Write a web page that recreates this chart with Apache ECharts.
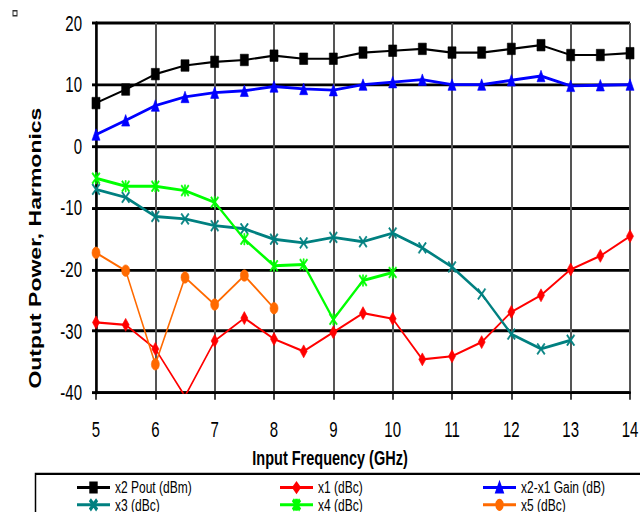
<!DOCTYPE html>
<html>
<head>
<meta charset="utf-8">
<script src="https://cdn.jsdelivr.net/npm/echarts@6/dist/echarts.min.js"></script>
<style>
  html { margin: 0; padding: 0; overflow: hidden; }
  body { margin: 0; padding: 0; background: #fff; width: 640px; height: 512px; }
  /* the reference is a chart stretched vertically, so draw it flat and stretch it */
  #main { width: 640px; height: 356px; transform: scaleY(1.4382); transform-origin: 0 0; }
</style>
</head>
<body>
<div id="main"></div>
<script>
const freq = [5, 5.5, 6, 6.5, 7, 7.5, 8, 8.5, 9, 9.5, 10, 10.5, 11, 11.5, 12, 12.5, 13, 13.5, 14];

const pout = [7.0, 9.2, 11.7, 13.1, 13.7, 14.0, 14.7, 14.2, 14.2, 15.2, 15.5, 15.8, 15.2, 15.2, 15.8, 16.4, 14.8, 14.8, 15.1];
const gain = [1.9, 4.2, 6.6, 8.0, 8.7, 9.0, 9.7, 9.3, 9.1, 10.0, 10.4, 10.8, 10.0, 10.0, 10.7, 11.4, 9.8, 9.9, 10.0];
const x1 = [-28.6, -29.0, -32.9, -40.6, -31.6, -27.9, -31.3, -33.3, -30.2, -27.1, -28.0, -34.6, -34.1, -31.8, -26.9, -24.2, -20.0, -17.8, -14.6];
const x3 = [-7.0, -8.3, -11.4, -11.8, -12.9, -13.4, -15.1, -15.7, -14.8, -15.5, -14.1, -16.5, -19.6, -24.0, -30.5, -32.9, -31.5];
const x4 = [-5.2, -6.5, -6.5, -7.2, -9.1, -15.1, -19.4, -19.2, -28.1, -21.8, -20.5];
const x5 = [-17.3, -20.2, -35.4, -21.3, -25.7, -21.0, -26.3];

const FONT = "'Liberation Sans', Arial, sans-serif";

const X_MARK = 'path://M0,1L1,0L5,4L9,0L10,1L6,5L10,9L9,10L5,6L1,10L0,9L4,5Z';
const STAR_MARK = 'path://M0,1L1,0L5,4L9,0L10,1L6,5L10,9L9,10L5,6L1,10L0,9L4,5Z' +
    'M4.4,0L5.6,0L5.6,10L4.4,10Z';

function pairs(vals) {
    return vals.map(function (v, i) { return [freq[i], v]; });
}

function lineSeries(name, vals, color, symbol, size, width) {
    return {
        name: name,
        type: 'line',
        data: pairs(vals),
        symbol: symbol,
        symbolSize: size,
        showAllSymbol: true,
        clip: true,
        color: color,
        lineStyle: { color: color, width: width },
        itemStyle: { color: color, borderColor: color, borderWidth: 0.5 }
    };
}

const legendBase = {
    orient: 'vertical',
    top: 333,
    height: 40,
    padding: 0,
    itemWidth: 33,
    itemHeight: 8,
    itemGap: 0,
    textStyle: { fontFamily: FONT, fontSize: 12, color: '#000' },
    selectedMode: false
};

const chart = echarts.init(document.getElementById('main'), null, { renderer: 'svg' });

const option = {
    animation: false,
    backgroundColor: '#fff',
    textStyle: { fontFamily: FONT },
    grid: { left: 96, right: 10, top: 16, bottom: 83, containLabel: false, outerBoundsMode: 'none' },
    legend: [
        Object.assign({ left: 76, data: ['x2 Pout (dBm)', 'x3 (dBc)'] }, legendBase),
        Object.assign({ left: 279, data: ['x1 (dBc)', 'x4 (dBc)'] }, legendBase),
        Object.assign({ left: 482, data: ['x2-x1 Gain (dB)', 'x5 (dBc)'] }, legendBase)
    ],
    xAxis: {
        type: 'value',
        min: 5,
        max: 14,
        interval: 1,
        name: 'Input Frequency (GHz)',
        nameLocation: 'middle',
        nameGap: 35,
        nameTextStyle: { fontFamily: FONT, fontSize: 14.5, fontWeight: 'bold', color: '#000', padding: [0, 66, 0, 0] },
        axisLine: { onZero: false, lineStyle: { color: '#000', width: 2 } },
        axisTick: { length: 5, lineStyle: { color: '#000', width: 1.5 } },
        axisLabel: { margin: 18, fontSize: 15, color: '#000', fontFamily: FONT },
        splitLine: { show: true, lineStyle: { color: '#555', width: 2 } }
    },
    yAxis: {
        type: 'value',
        min: -40,
        max: 20,
        interval: 10,
        axisLine: { show: true, lineStyle: { color: '#000', width: 2.5 } },
        axisTick: { show: true, length: 4, lineStyle: { color: '#000', width: 2 } },
        axisLabel: { margin: 14, fontSize: 15, color: '#000', fontFamily: FONT },
        splitLine: { show: true, lineStyle: { color: '#000', width: 2 } }
    },
    graphic: [
        {
            type: 'text',
            x: 35,
            y: 172.5,
            rotation: Math.PI / 2,
            style: {
                text: 'Output Power, Harmonics',
                font: 'bold 16px ' + FONT,
                fill: '#000',
                textAlign: 'center',
                textVerticalAlign: 'middle'
            }
        },
        {
            type: 'rect',
            shape: { x: 13, y: 7.5, width: 4, height: 3.5 },
            style: { fill: '#fff', stroke: '#333', lineWidth: 1 }
        },
        {
            type: 'rect',
            shape: { x: 35.5, y: 329.5, width: 610, height: 40 },
            style: { fill: 'none', stroke: '#000', lineWidth: 1.5 },
            z: -1
        }
    ],
    series: [
        lineSeries('x2 Pout (dBm)', pout, '#000000', 'rect', 8, 1.5),
        lineSeries('x1 (dBc)', x1, '#ff0000', 'diamond', [7, 9], 1.5),
        lineSeries('x2-x1 Gain (dB)', gain, '#0000ff', 'triangle', 8, 2),
        lineSeries('x3 (dBc)', x3, '#008080', X_MARK, 8, 2),
        lineSeries('x4 (dBc)', x4, '#00ff00', STAR_MARK, 8, 2),
        lineSeries('x5 (dBc)', x5, '#ff6a00', 'circle', 8, 1.5)
    ]
};

chart.setOption(option);
</script>
</body>
</html>
